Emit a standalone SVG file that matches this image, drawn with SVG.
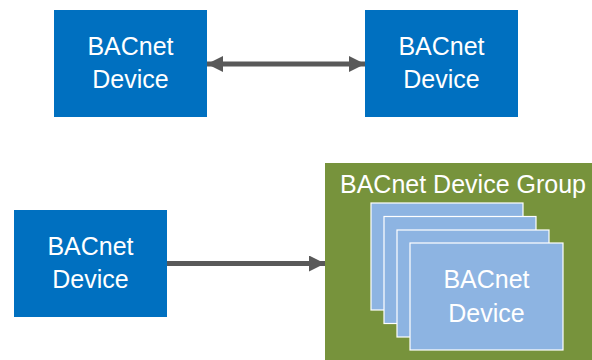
<svg xmlns="http://www.w3.org/2000/svg" width="592" height="360" viewBox="0 0 592 360">
  <style>
    .dev { fill: #0070C0; }
    .card { fill: #8DB4E2; stroke: #FFFFFF; stroke-width: 1.2; }
    .grp { fill: #77933C; }
    .lbl { font-family: "Liberation Sans", Arial, sans-serif; font-size: 25px; fill: #FFFFFF; text-anchor: middle; }
    .conn { stroke: #595959; stroke-width: 5; fill: none; }
  </style>
  <defs>
    <marker id="head" viewBox="0 0 10 10" refX="10" refY="5" markerWidth="3.4" markerHeight="3.2" orient="auto-start-reverse" markerUnits="strokeWidth">
      <path d="M0,0 L10,5 L0,10 Z" fill="#595959"/>
    </marker>
  </defs>

  <rect width="592" height="360" fill="#FFFFFF"/>

  <g id="device-a">
    <rect class="dev" x="54" y="10" width="153" height="107"/>
    <text class="lbl" x="130.5" y="55">BACnet</text>
    <text class="lbl" x="130.5" y="88">Device</text>
  </g>

  <g id="device-b">
    <rect class="dev" x="365" y="10" width="153" height="107"/>
    <text class="lbl" x="441.5" y="55">BACnet</text>
    <text class="lbl" x="441.5" y="88">Device</text>
  </g>

  <g id="device-c">
    <rect class="dev" x="14" y="210" width="153" height="107"/>
    <text class="lbl" x="90.5" y="255">BACnet</text>
    <text class="lbl" x="90.5" y="288">Device</text>
  </g>

  <g id="device-group">
    <rect class="grp" x="325" y="163" width="267" height="197"/>
    <text class="lbl" x="463" y="193">BACnet Device Group</text>
    <rect class="card" x="371" y="203" width="152" height="107"/>
    <rect class="card" x="384" y="216.5" width="152" height="107"/>
    <rect class="card" x="397" y="230" width="152" height="107"/>
    <rect class="card" x="410" y="243" width="153" height="107"/>
    <text class="lbl" x="486.5" y="288">BACnet</text>
    <text class="lbl" x="486.5" y="322">Device</text>
  </g>

  <g id="connectors">
    <line class="conn" x1="207" y1="64" x2="365" y2="64" marker-start="url(#head)" marker-end="url(#head)"/>
    <line class="conn" x1="167" y1="263.5" x2="325" y2="263.5" marker-end="url(#head)"/>
  </g>
</svg>
